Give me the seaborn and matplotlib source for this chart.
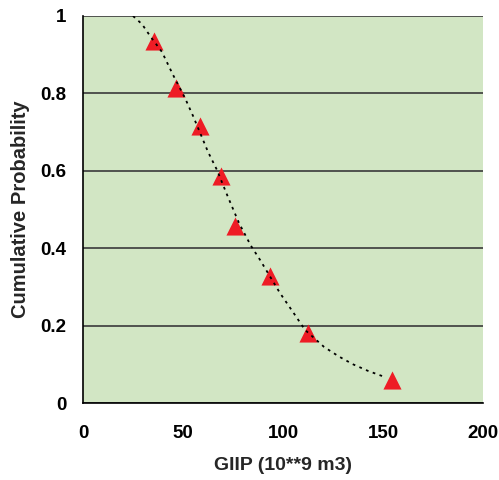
import numpy as np
import pandas as pd
import matplotlib
matplotlib.use("Agg")
import matplotlib.pyplot as plt
import seaborn as sns

# measured points (GIIP vs cumulative probability)
giip = [35.5, 46.5, 58.5, 69, 76, 93.5, 112.5, 154.5]
prob = [0.935, 0.814, 0.716, 0.587, 0.457, 0.328, 0.181, 0.059]

# fitted curve
fit_x = [25, 29.5, 34, 39.5, 45, 51, 55, 62.5, 67, 72.5, 78, 84, 88.5, 98.5,
         105, 111, 120.5, 128, 135, 142.5, 151]
fit_y = [1.0, 0.979, 0.945, 0.907, 0.848, 0.788, 0.742, 0.649, 0.602, 0.532,
         0.465, 0.406, 0.37, 0.284, 0.235, 0.189, 0.145, 0.12, 0.10, 0.083, 0.067]

sns.set_style("white")
plt.rcParams['font.family'] = ['Liberation Sans', 'DejaVu Sans']
plt.rcParams['font.weight'] = 'bold'

fig = plt.figure(figsize=(4.99, 4.8), dpi=100)
ax = fig.add_axes([83/499, 1 - 403/480, 400/499, 387/480])
ax.set_facecolor('#d2e6c4')

df_fit = pd.DataFrame({'x': fit_x, 'y': fit_y})
df_pts = pd.DataFrame({'x': giip, 'y': prob})

sns.lineplot(data=df_fit, x='x', y='y', ax=ax, color='black',
             linestyle=(0, (1.5, 2.5)), linewidth=1.3, zorder=3)
sns.scatterplot(data=df_pts, x='x', y='y', ax=ax, marker='^', s=170,
                color='#ee1c25', edgecolor='#ee1c25', linewidth=0, zorder=2)

ax.set_xlim(0, 200)
ax.set_ylim(0, 1)
ax.set_xticks([0, 50, 100, 150, 200])
ax.set_yticks([0, 0.2, 0.4, 0.6, 0.8, 1])
ax.set_yticklabels(['0', '0.2', '0.4', '0.6', '0.8', '1'])
ax.yaxis.grid(True, color='#3a3a3a', linewidth=1.2)
ax.set_axisbelow(True)

for s in ['top', 'right']:
    ax.spines[s].set_visible(False)
for s in ['left', 'bottom']:
    ax.spines[s].set_color('black')
    ax.spines[s].set_linewidth(1.2)

ax.tick_params(axis='both', direction='out', length=5, width=1,
               labelsize=13.5, colors='black')
ax.tick_params(axis='x', pad=11)
ax.tick_params(axis='y', pad=7)
for lab in ax.get_xticklabels() + ax.get_yticklabels():
    lab.set_fontweight('bold')

ax.set_xlabel('GIIP (10**9 m3)', fontsize=14, fontweight='bold', labelpad=11)
ax.set_ylabel('Cumulative Probability', fontsize=14.5, fontweight='bold', labelpad=7)

fig.savefig('out.png', dpi=100)
